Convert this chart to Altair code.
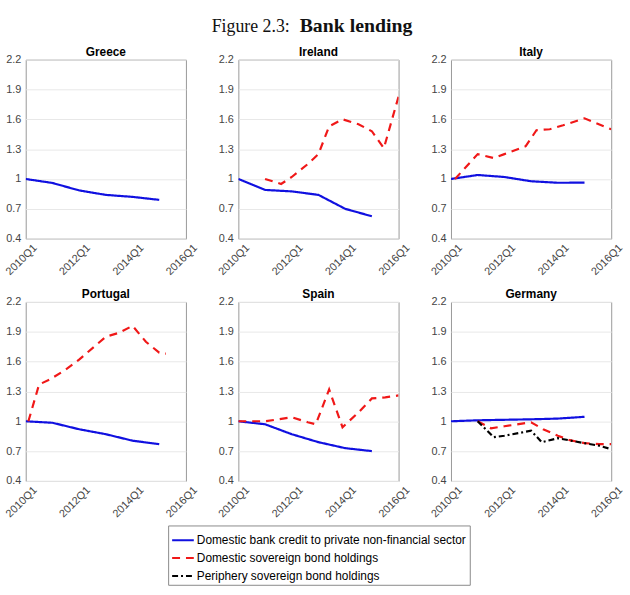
import altair as alt
import pandas as pd

# ---------------- data ----------------
series_names = [
    "Domestic bank credit to private non-financial sector",
    "Domestic sovereign bond holdings",
    "Periphery sovereign bond holdings",
]
series_colors = ["#1010e0", "#f01818", "#000000"]
series_dashes = [[1, 0], [8, 6], [6, 3, 2, 3]]

countries = ["Greece", "Ireland", "Italy", "Portugal", "Spain", "Germany"]

credit_years = [2010, 2011, 2012, 2013, 2014, 2015]
greece_credit = [1.0, 0.96, 0.885, 0.84, 0.82, 0.79]
ireland_credit = [1.0, 0.89, 0.875, 0.84, 0.70, 0.625]
italy_credit = [1.0, 1.04, 1.02, 0.977, 0.962, 0.963]
portugal_credit = [1.0, 0.985, 0.92, 0.87, 0.805, 0.77]
spain_credit = [1.0, 0.97, 0.87, 0.79, 0.73, 0.70]
germany_credit = [1.0, 1.01, 1.015, 1.02, 1.027, 1.045]

ireland_bond_x = [2011, 2011.6, 2012, 2012.6, 2013, 2013.4, 2013.9, 2014.5, 2015, 2015.45, 2016]
ireland_bond = [1.0, 0.95, 1.02, 1.15, 1.25, 1.53, 1.60, 1.55, 1.48, 1.31, 1.83]

italy_bond_x = [2010.15, 2011, 2011.6, 2012, 2012.8, 2013.2, 2013.7, 2014.2, 2015, 2016]
italy_bond = [1.0, 1.25, 1.21, 1.25, 1.33, 1.49, 1.50, 1.54, 1.61, 1.50]

portugal_bond_x = [2010.1, 2010.5, 2010.9, 2011.5, 2012, 2012.65, 2013, 2013.5, 2014, 2014.5, 2015, 2015.25]
portugal_bond = [1.0, 1.37, 1.42, 1.52, 1.62, 1.77, 1.85, 1.89, 1.96, 1.80, 1.69, 1.68]

spain_bond_x = [2010, 2011, 2012, 2012.6, 2012.9, 2013.4, 2013.9, 2014.5, 2015, 2015.5, 2016]
spain_bond = [1.0, 1.0, 1.04, 0.99, 0.97, 1.32, 0.94, 1.09, 1.23, 1.24, 1.26]

germany_bond_x = [2011, 2011.5, 2012, 2013, 2013.45, 2014, 2014.45, 2015, 2015.55, 2016]
germany_bond = [1.0, 0.93, 0.95, 0.99, 0.92, 0.855, 0.81, 0.78, 0.77, 0.77]

germany_periph_x = [2011, 2011.6, 2012, 2013, 2013.4, 2014, 2015, 2015.55, 2016]
germany_periph = [1.0, 0.84, 0.855, 0.905, 0.79, 0.83, 0.78, 0.755, 0.72]

x_ticks = [2010, 2012, 2014, 2016]
y_ticks = [0.4, 0.7, 1.0, 1.3, 1.6, 1.9, 2.2]

# ---------------- build long table ----------------
rows = []
def add(country, series, xs, ys):
    for xv, yv in zip(xs, ys):
        rows.append({"country": country, "series": series, "x": xv, "y": yv})

add("Greece", series_names[0], credit_years, greece_credit)
add("Ireland", series_names[0], credit_years, ireland_credit)
add("Italy", series_names[0], credit_years, italy_credit)
add("Portugal", series_names[0], credit_years, portugal_credit)
add("Spain", series_names[0], credit_years, spain_credit)
add("Germany", series_names[0], credit_years, germany_credit)
add("Ireland", series_names[1], ireland_bond_x, ireland_bond)
add("Italy", series_names[1], italy_bond_x, italy_bond)
add("Portugal", series_names[1], portugal_bond_x, portugal_bond)
add("Spain", series_names[1], spain_bond_x, spain_bond)
add("Germany", series_names[1], germany_bond_x, germany_bond)
add("Germany", series_names[2], germany_periph_x, germany_periph)
df = pd.DataFrame(rows)

legend = alt.Legend(
    title=None, orient="none", legendX=144, legendY=471, direction="vertical",
    symbolType="stroke", symbolStrokeWidth=2, symbolSize=480,
    labelFont="Liberation Sans", labelFontSize=12, labelColor="#000000", labelLimit=0,
    labelOffset=2, strokeColor="#8a8a8a", fillColor="white", padding=3, rowPadding=-1.5,
)

PW, PH = 162, 181


def panel(country):
    d = df[df["country"] == country]
    one = pd.DataFrame({"k": [0]})
    lines = alt.Chart(d).mark_line(strokeWidth=2.2, clip=True).encode(
        x=alt.X("x:Q",
                scale=alt.Scale(domain=[2010, 2016], nice=False, zero=False),
                axis=alt.Axis(values=x_ticks, labelExpr="datum.value + 'Q1'",
                              labelAngle=-45, grid=False, ticks=False, domain=False,
                              title=None, labelPadding=3, labelOffset=5)),
        y=alt.Y("y:Q",
                scale=alt.Scale(domain=[0.4, 2.2], nice=False, zero=False),
                axis=alt.Axis(values=y_ticks, format=".1~f", grid=True,
                              gridColor="#e8e8e8", ticks=False, domain=False,
                              title=None, labelPadding=5)),
        color=alt.Color("series:N", scale=alt.Scale(domain=series_names, range=series_colors),
                        legend=legend),
        strokeDash=alt.StrokeDash("series:N", scale=alt.Scale(domain=series_names, range=series_dashes),
                                  legend=legend),
        order=alt.Order("x:Q"),
    )
    name = alt.Chart(one).mark_text(
        text=country, font="Liberation Sans", fontSize=12, fontWeight="bold",
        align="center", baseline="alphabetic", color="#000000",
    ).encode(x=alt.value(PW / 2), y=alt.value(-4))
    layers = [lines, name]
    if country == "Ireland":
        layers.append(alt.Chart(one).mark_text(
            text="Figure 2.3:", font="Liberation Serif", fontSize=18, align="right",
            baseline="alphabetic", color="#111111").encode(x=alt.value(52), y=alt.value(-28)))
        layers.append(alt.Chart(one).mark_text(
            text="Bank lending", font="Liberation Serif", fontSize=20, fontWeight="bold",
            align="left", baseline="alphabetic", color="#111111").encode(x=alt.value(62), y=alt.value(-28)))
    return alt.layer(*layers).properties(width=PW, height=PH)


chart = alt.concat(
    *[panel(c) for c in countries], columns=3,
    spacing={"row": 64, "column": 53}, bounds="flush",
).resolve_scale(color="shared", strokeDash="shared").properties(
    padding={"left": 2, "top": 12, "right": 5, "bottom": 5},
).configure_view(stroke="#999999", strokeWidth=1).configure_axis(
    labelFont="Liberation Sans", labelFontSize=11, labelColor="#444444",
)

chart.save("out.html", embed_options={"renderer": "svg", "actions": False})
